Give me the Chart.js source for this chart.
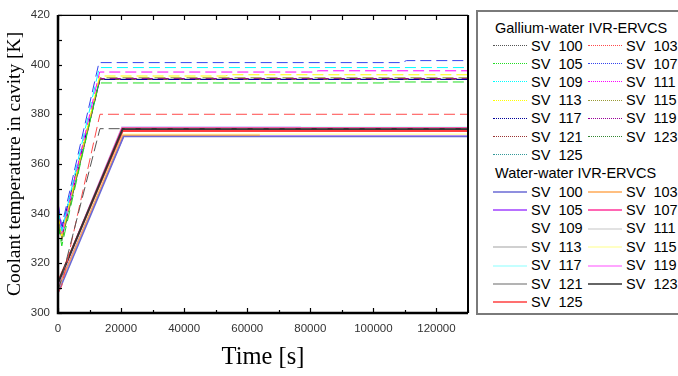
<!DOCTYPE html>
<html>
<head>
<meta charset="utf-8">
<script src="https://cdn.jsdelivr.net/npm/chart.js@4"></script>
<style>
  html, body { margin: 0; padding: 0; background: #fff; }
  #wrap { position: relative; width: 678px; height: 376px; overflow: hidden; }
  #c { position: absolute; left: 0; top: 0; }
  #legend { position: absolute; left: 476px; top: 10px; width: 220px; height: 301px;
            border: 2px solid #7a7a7a; background: #fff; font-family: "Liberation Sans", Arial, sans-serif;
            font-size: 14.5px; color: #000; }
  #legend .t { position: absolute; left: 17px; white-space: nowrap; line-height: 16px; }
  #legend .it { position: absolute; white-space: nowrap; line-height: 16px; }
  #legend .ln { position: absolute; width: 34px; height: 0; }
</style>
</head>
<body>
<div id="wrap">
  <canvas id="c" width="678" height="376"></canvas>
  <div id="legend"></div>
</div>
<script>
// time axis ticks and ranges
const xTicks = [0, 20000, 40000, 60000, 80000, 100000, 120000];
const yTicks = [300, 320, 340, 360, 380, 400, 420];

// Gallium-water IVR-ERVCS (dashed)
const gaLabels  = ['SV 100', 'SV 103', 'SV 105', 'SV 107', 'SV 109', 'SV 111', 'SV 113', 'SV 115', 'SV 117', 'SV 119', 'SV 121', 'SV 123', 'SV 125'];
const gaColors  = ['#555555', '#ff4a4a', '#22dd22', '#3344ee', '#00ffff', '#ff00ff', '#ffff00', '#999933', '#000099', '#990099', '#993333', '#338833', '#339999'];
const gaStart   = [309, 308, 336, 344, 342, 345, 340, 338, 341, 339, 337, 336, 340];
const gaDip     = [314, 311, 327, 335, 333, 332, 331, 330, 334, 331, 330, 329, 330];
const gaRiseEnd = [13300, 13300, 12900, 13000, 13100, 13200, 13200, 13300, 13300, 13300, 13300, 13300, 13300];
const gaPlateau = [374.2, 380, 392.6, 400.8, 398.8, 397.0, 395.4, 394.7, 394.0, 394.4, 394.2, 394.0, 394.1];
const gaStepAt  = [130000, 130000, 103000, 109000, 130000, 81000, 53000, 130000, 130000, 130000, 130000, 130000, 130000];
const gaLate    = [374.2, 380, 393.0, 401.6, 398.8, 397.5, 395.9, 394.7, 394.0, 394.4, 394.2, 394.0, 394.1];

// Water-water IVR-ERVCS (solid)
const waLabels  = ['SV 100', 'SV 103', 'SV 105', 'SV 107', 'SV 109', 'SV 111', 'SV 113', 'SV 115', 'SV 117', 'SV 119', 'SV 121', 'SV 123', 'SV 125'];
const waColors  = ['#6a6ad4', '#ffaa55', '#a040ff', '#ff3399', '#ffffff', '#d8d8d8', '#c0c0c0', '#ffffb0', '#b0ffff', '#ff88ff', '#999999', '#333333', '#ff4040'];
const waStart   = [308, 309.5, 310, 312, 311, 311, 311, 310, 312, 312, 311, 312, 312.5];
const waRiseEnd = [20800, 20600, 20800, 20300, 20500, 20400, 20400, 20600, 20300, 20300, 20500, 20500, 20500];
const waPlateau = [371.0, 371.6, 371.2, 374.5, 374.0, 374.6, 374.0, 372.0, 374.8, 374.9, 373.6, 374.1, 373.3];
const waEnd     = [130000, 64000, 130000, 130000, 130000, 130000, 130000, 130000, 130000, 77000, 130000, 130000, 130000];

// drawing order: first listed ends up on top
const waTopFirst = [11, 12, 0, 1, 2, 3, 4, 5, 6, 7, 8, 9, 10];

function gaPoints(i) {
  const pts = [{x: 0, y: gaStart[i]}, {x: 1200, y: gaDip[i]}, {x: gaRiseEnd[i], y: gaPlateau[i]}];
  if (gaStepAt[i] < 130000) {
    pts.push({x: gaStepAt[i], y: gaPlateau[i]}, {x: gaStepAt[i] + 1500, y: gaLate[i]});
  }
  pts.push({x: 130000, y: gaLate[i]});
  return pts;
}
function waPoints(i) {
  return [{x: 0, y: waStart[i]}, {x: waRiseEnd[i], y: waPlateau[i]}, {x: waEnd[i], y: waPlateau[i]}];
}

const datasets = [];
gaLabels.forEach((l, i) => datasets.push({
  label: 'G ' + l, data: gaPoints(i), borderColor: gaColors[i], borderWidth: 1,
  borderDash: [11, 5], pointRadius: 0, tension: 0, fill: false
}));
waTopFirst.forEach(i => datasets.push({
  label: 'W ' + waLabels[i], data: waPoints(i), borderColor: waColors[i], borderWidth: (i >= 11) ? 2 : 1.5,
  pointRadius: 0, tension: 0, fill: false
}));

// inward ticks and frame
const framePlugin = {
  id: 'frame',
  afterDraw(chart) {
    const {ctx, chartArea: a, scales} = chart;
    const xs = scales.x, ys = scales.y;
    ctx.save();
    ctx.strokeStyle = '#000';
    ctx.lineWidth = 1.2;
    for (let v = 0; v <= 130000; v += 10000) {
      const px = Math.round(xs.getPixelForValue(v)) + 0.5;
      const major = v % 20000 === 0;
      ctx.beginPath();
      ctx.moveTo(px, a.bottom); ctx.lineTo(px, a.bottom - (major ? 5 : 3));
      ctx.moveTo(px, a.top); ctx.lineTo(px, a.top + 5);
      ctx.stroke();
    }
    for (let v = 300; v <= 420; v += 10) {
      const py = Math.round(ys.getPixelForValue(v)) + 0.5;
      ctx.beginPath();
      ctx.moveTo(a.left, py); ctx.lineTo(a.left + 4, py);
      ctx.stroke();
    }
    ctx.lineWidth = 1.2;
    ctx.beginPath(); ctx.moveTo(a.left, a.top + 0.5); ctx.lineTo(a.right, a.top + 0.5); ctx.stroke();
    ctx.lineWidth = 2;
    ctx.beginPath(); ctx.moveTo(a.right, a.top); ctx.lineTo(a.right, a.bottom); ctx.stroke();
    ctx.lineWidth = 2.5;
    ctx.beginPath(); ctx.moveTo(a.left, a.top); ctx.lineTo(a.left, a.bottom); ctx.lineTo(a.right, a.bottom); ctx.stroke();
    ctx.restore();
  }
};

new Chart(document.getElementById('c'), {
  type: 'line',
  data: { datasets },
  options: {
    responsive: false,
    animation: false,
    layout: { padding: { top: 11, right: 210, left: 0, bottom: 0 } },
    plugins: { legend: { display: false }, tooltip: { enabled: false } },
    scales: {
      x: {
        type: 'linear', min: 0, max: 130000,
        afterBuildTicks: s => { s.ticks = xTicks.map(v => ({value: v})); },
        afterFit: s => { s.height = 63; },
        grid: { display: false, drawTicks: false },
        border: { display: false },
        ticks: { padding: 9, color: '#333', font: { family: 'Liberation Sans', size: 11.5 }, maxRotation: 0,
                 callback: v => String(v) },
        title: { display: true, text: 'Time [s]', color: '#000',
                 font: { family: 'Liberation Serif', size: 24.5 }, padding: { top: 0, bottom: 4 } }
      },
      y: {
        min: 300, max: 420,
        afterBuildTicks: s => { s.ticks = yTicks.map(v => ({value: v})); },
        afterFit: s => { s.width = 58; },
        grid: { display: false, drawTicks: false },
        border: { display: false },
        ticks: { padding: 8, color: '#333', font: { family: 'Liberation Sans', size: 11.5 } },
        title: { display: true, text: 'Coolant temperature in cavity [K]', color: '#000',
                 font: { family: 'Liberation Serif', size: 19.5 }, padding: { top: 3, bottom: 0 } }
      }
    }
  },
  plugins: [framePlugin]
});

// legend box
const lg = document.getElementById('legend');
function addTitle(text, cy) {
  const d = document.createElement('div');
  d.className = 't'; d.textContent = text; d.style.top = (cy - 8) + 'px';
  lg.appendChild(d);
}
function addItems(labels, colors, dashed, cy0, step) {
  labels.forEach((l, i) => {
    const row = Math.floor(i / 2), col = i % 2;
    const cy = cy0 + row * step;
    const ln = document.createElement('div');
    ln.className = 'ln';
    ln.style.left = (col ? 110 : 15) + 'px';
    ln.style.top = (cy - 0.5) + 'px';
    ln.style.borderTop = (dashed ? '1px dotted ' : '2px solid ') + colors[i];
    if (!dashed) ln.style.opacity = 0.75;
    lg.appendChild(ln);
    const t = document.createElement('div');
    t.className = 'it'; t.textContent = l.replace(' ', '\u00a0\u00a0');
    t.style.left = (col ? 148 : 53) + 'px';
    t.style.top = (cy - 8) + 'px';
    lg.appendChild(t);
  });
}
addTitle('Gallium-water IVR-ERVCS', 16);
addItems(gaLabels, gaColors, true, 33.5, 18.2);
addTitle('Water-water IVR-ERVCS', 160.5);
addItems(waLabels, waColors, false, 179.5, 18.4);
</script>
</body>
</html>
